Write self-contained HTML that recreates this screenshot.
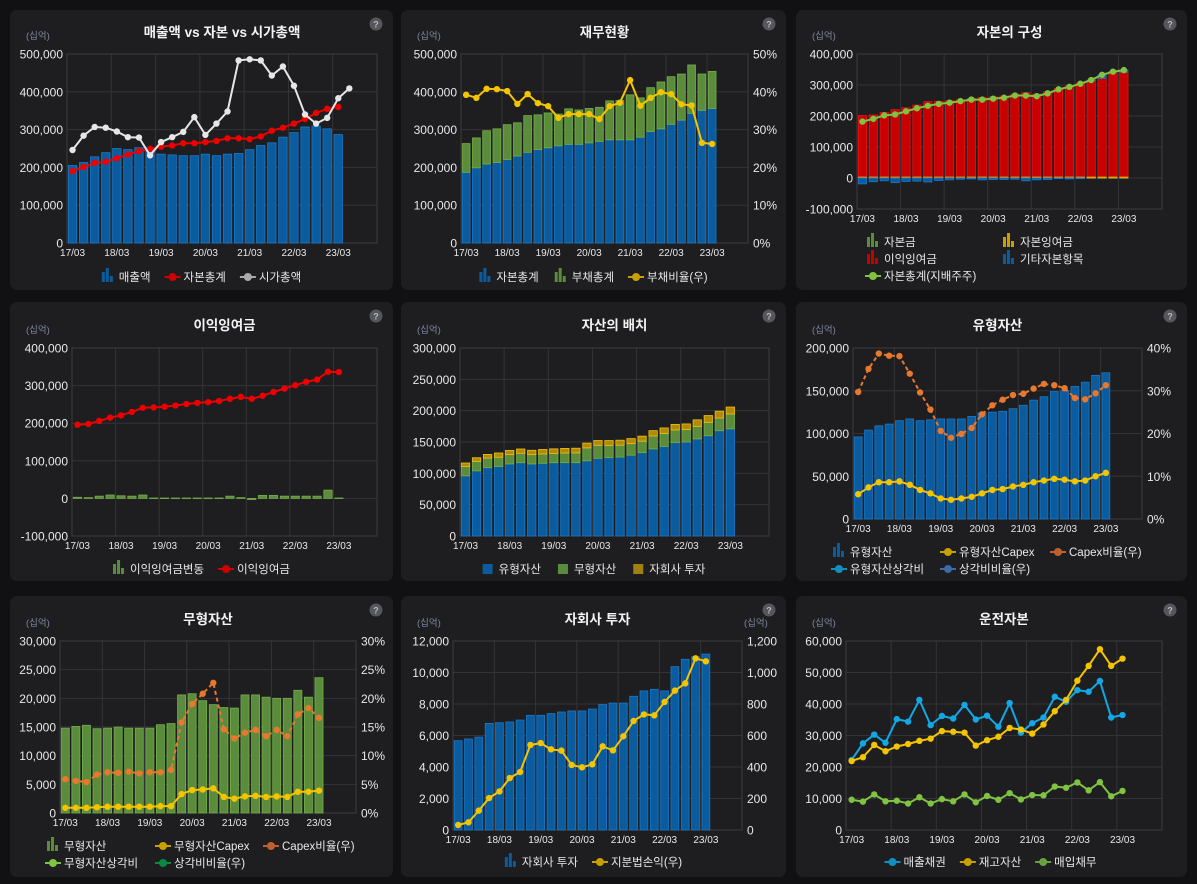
<!DOCTYPE html>
<html><head><meta charset="utf-8">
<style>
html,body{margin:0;padding:0;background:#111113;}
svg{display:block;font-family:"Liberation Sans","Noto Sans CJK KR",sans-serif;}
</style></head>
<body>
<svg id="dash" width="1197" height="884" viewBox="0 0 1197 884" xmlns="http://www.w3.org/2000/svg">
<rect width="1197" height="884" fill="#111113"/>
</svg>
<script>
// ---- data (values in thousands of 십억 unless %) ----
const quarters = ["17/03","18/03","19/03","20/03","21/03","22/03","23/03"];
const c1Sales = [205,213,228,239,250,247,252,252,235,233,231,231,235,231,235,237,247,258,265,280,292,307,309,302,287];
const c1Equity = [190,201,212,215,224,234,243,249,255,258,264,264,267,270,277,277,275,282,297,305,316,328,344,355,360];
const c1MarketCap = [246,284,307,305,295,280,279,232,267,280,294,333,286,316,348,483,486,483,443,467,416,340,316,331,383,409];
const c2Equity = [187,199,209,213,221,230,240,247,252,257,261,261,265,269,273,273,273,280,295,302,314,325,343,351,356];
const c2Total = [263,278,297,302,313,318,337,339,344,341,355,352,356,359,376,377,392,384,411,426,440,447,471,447,454];
const c2DebtRatio = [39.2,38.4,40.8,40.7,40.2,36.8,39.4,37.0,36.2,33.1,34.1,34.1,34.1,32.8,36.2,37.1,43.1,36.3,38.4,39.9,39.4,36.7,36.4,26.5,26.2];
const c3Capital = [0.9,0.9,0.9,0.9,0.9,0.9,0.9,0.9,0.9,0.9,0.9,0.9,0.9,0.9,0.9,0.9,0.9,0.9,0.9,0.9,0.9,0.9,0.9,0.9,0.9];
const c3Surplus = [4.4,4.4,4.4,4.4,4.4,4.4,4.4,4.4,4.4,4.4,4.4,4.4,4.4,4.4,4.4,4.4,4.4,4.4,4.4,4.4,4.4,4.4,4.4,4.4,4.4];
const c3Other = [-19,-12,-9,-15,-11,-10,-13,-8,-6,-4,-3,-6,-5,-5,-4,-9,-6,-5,-2,-3,-2,1,12,1,7];
const c3TotalEq = [182,191,202,205,215,225,233,239,243,248,253,253,256,259,266,266,264,273,286,294,304,316,333,343,348];
const c4Retained = [196,198,206,215,221,230,241,242,244,247,251,254,256,259,265,270,265,273,283,292,301,310,316,337,336];
const c4Change = [3,2,6,9,7,6,9,1,1,1,1,1,1,1,6,2,-3,8,8,6,6,6,6,22,1];
const c6Tangible = [96,104,109,111,115,117,115,116,117,117,117,120,124,125,126,129,133,139,143,149,150,155,160,168,171];
const c6Capex = [29,37,43,43,44,40,34,30,24,22.5,24,26,30,34,35,38,40,43,45,47,46,44,45,50,54];
const c6CapexRatio = [29.7,35.1,38.7,38.2,38.1,34.0,29.6,25.6,20.6,19.0,19.9,21.3,24.5,26.6,27.9,29.0,29.3,30.5,31.6,31.3,30.6,28.3,28.0,29.4,31.3];
const c7Intangible = [14.8,15.1,15.3,14.7,14.8,15.0,14.8,14.8,14.8,15.4,15.6,20.6,20.8,19.6,18.9,18.4,18.3,20.6,20.6,20.2,20.0,20.0,21.4,20.2,23.6];
const c7Capex = [0.9,0.9,0.9,1.0,1.1,1.1,1.1,1.1,1.1,1.2,1.2,3.3,4.0,4.1,4.3,2.8,2.5,2.9,3.0,2.8,2.9,2.8,3.7,3.7,3.9];
const c7CapexRatio = [5.9,5.6,5.4,6.7,7.1,7.0,7.2,6.9,7.1,7.1,7.5,15.8,19.0,20.8,22.7,14.6,13.0,14.0,14.5,13.4,14.5,13.4,17.2,18.3,16.6];
const c8Invest = [5.67,5.78,5.9,6.77,6.81,6.86,6.98,7.28,7.28,7.39,7.49,7.56,7.56,7.68,7.96,8.06,8.06,8.49,8.83,8.93,8.83,10.37,10.84,11.0,11.17];
const c8EquityPL = [32,49,123,203,245,330,368,540,552,512,504,413,398,417,531,506,595,692,734,728,813,885,931,1090,1071];
const c9Receivable = [22.2,27.5,30.3,27.7,35.2,34.4,41.3,33.3,36.2,35.4,39.7,35.1,36.3,32.8,40.3,30.9,33.9,35.7,42.3,40.7,44.4,43.9,47.3,35.7,36.5];
const c9Inventory = [21.9,23.1,27.0,25.0,26.5,27.3,28.3,29.0,31.4,31.2,30.9,26.8,28.5,29.6,32.4,31.9,30.6,33.5,37.7,41.3,47.4,52.1,57.4,52.1,54.4];
const c9Payable = [9.6,9.0,11.3,9.1,9.3,8.4,10.4,8.4,9.8,9.1,11.3,8.8,10.8,9.6,11.7,9.7,11.1,11.0,13.8,13.4,15.1,12.6,15.2,10.7,12.4];
const c5Tangible = c6Tangible;
const c5Intangible = c7Intangible;
const c5Invest = c8Invest;

// ---- engine ----
const NS = "http://www.w3.org/2000/svg";
const root = document.getElementById('dash');
const SLOTS = 28;
const C = {blue:"#0b5c9e", blueE:"#1a78c8", green:"#5b8c3c", greenE:"#74ad4a", red:"#c80000", redE:"#ee1010",
  yellow:"#f5c400", orange:"#e8782e", white:"#e6e6e6", lblue:"#12a8e6", lgreen:"#80c241", gold:"#a38410", goldE:"#e0b010", grid:"#343438"};
function el(tag, attrs, parent){
  const e = document.createElementNS(NS, tag);
  for (const k in attrs) e.setAttribute(k, attrs[k]);
  (parent||root).appendChild(e);
  return e;
}
function fmt(v){ return v.toLocaleString('en-US'); }

function panel(p){
  const g = el('g', {});
  
  
  el('rect', {x:p.px, y:p.py, width:p.pw, height:p.ph, rx:7, fill:"#1e1e21"}, g);
  const t = el('text', {x:(p.x0+p.x1)/2, y:p.ty, 'text-anchor':'middle', fill:'#f2f2f2', 'font-size':13.5, 'font-weight':'bold'}, g);
  t.textContent = p.title;
  
  
  const u = el('text', {x:p.px+16, y:p.y0-15, fill:'#7f86a0', 'font-size':9.5}, g);
  u.textContent = '(십억)';
  
  
  if (p.rightUnit){
    const u2 = el('text', {x:p.x1+2, y:p.y0-15, fill:'#7f86a0', 'font-size':9.5}, g);
    u2.textContent = '(십억)';
    
    
  }
  const h = el('g', {}, g);
  
  
  el('circle', {cx:p.px+p.pw-17, cy:p.py+14, r:6.5, fill:'#56565e'}, h);
  const q = el('text', {x:p.px+p.pw-17, y:p.py+17.5, 'text-anchor':'middle', fill:'#bbb', 'font-size':9, 'font-weight':'bold'}, h);
  q.textContent = '?';
  // scales
  const xs = i => p.x0 + (i+0.5)*(p.x1-p.x0)/SLOTS;
  const ys = v => p.y1 - (v - p.min)/(p.max - p.min)*(p.y1 - p.y0);
  const yr = v => p.y1 - (v - p.rmin)/(p.rmax - p.rmin)*(p.y1 - p.y0);
  // grid
  const gg = el('g', {}, g);
  
  
  for (let v = p.min; v <= p.max + 1e-9; v += p.step){
    el('line', {x1:p.x0, x2:p.x1, y1:ys(v), y2:ys(v), stroke:C.grid, 'stroke-width':1}, gg);
    const tl = el('text', {x:p.x0-4, y:ys(v)+4.5, 'text-anchor':'end', fill:'#e8e8e8', 'font-size':12}, gg);
    tl.textContent = fmt(Math.round(v*p.unit));
    
    
  }
  if (p.rmax !== undefined){
    const rsteps = Math.round((p.max-p.min)/p.step);
    for (let k = 0; k <= rsteps; k++){
      const v = p.rmin + k*(p.rmax-p.rmin)/rsteps;
      const tl = el('text', {x:p.x1+5, y:yr(v)+4.5, fill:'#e8e8e8', 'font-size':12}, gg);
      tl.textContent = p.rpct ? Math.round(v)+'%' : fmt(Math.round(v));
      
      
    }
  }
  quarters.forEach((q, k) => {
    const i = k*4;
    const xb = p.x0 + i*(p.x1-p.x0)/SLOTS;
    if (k>0) el('line', {x1:xb, x2:xb, y1:p.y0, y2:p.y1, stroke:C.grid}, gg);
    const xl = el('text', {x:xs(i), y:p.y1+13, 'text-anchor':'middle', fill:'#e8e8e8', 'font-size':10}, gg);
    xl.textContent = q;
    
    
  });
  el('rect', {x:p.x0, y:p.y0, width:p.x1-p.x0, height:p.y1-p.y0, fill:'none', stroke:'#3c3c40'}, gg);
  const bw = (p.x1-p.x0)/SLOTS*0.76;
  // stacked bars
  if (p.stack){
    const pos = [], neg = [];
    p.stack.forEach(s => {
      const sg = el('g', {}, g);
      
      
      s.data.forEach((v, i) => {
        pos[i] = pos[i]||0; neg[i] = neg[i]||0;
        let a, b;
        if (v >= 0){ a = pos[i]; b = pos[i]+v; pos[i] = b; } else { a = neg[i]+v; b = neg[i]; neg[i] = a; }
        const top = ys(b), bot = ys(a);
        const r = el('rect', {x:xs(i)-bw/2, y:top, width:bw, height:Math.max(bot-top, 0.5), fill:s.fill, stroke:s.edge, 'stroke-width':0.8}, sg);
        
        
      });
    });
  }
  // lines
  (p.lines||[]).forEach(L => {
    const sc = L.right ? yr : ys;
    const lg = el('g', {}, g);
    
    
    const pts = L.data.map((v,i) => xs(i).toFixed(1)+','+sc(v).toFixed(1)).join(' ');
    el('polyline', {points:pts, fill:'none', stroke:L.color, 'stroke-width':L.w||2, 'stroke-dasharray':L.dash?'4,3':'none', 'stroke-linejoin':'round'}, lg);
    L.data.forEach((v,i) => {
      const c = el('circle', {cx:xs(i), cy:sc(v), r:3.2, fill:L.color}, lg);
      
      
    });
  });
  // legend
  const leg = el('g', {}, g);
  
  
  p.legend.rows.forEach((row, ri) => {
    const y = p.legend.y + ri*17;
    let items = [];
    row.forEach((it, ci) => {
      const ig = el('g', {}, leg);
      
      
      if (it.t === 'bar'){
        el('rect', {x:0, y:-8, width:3, height:10, fill:it.c}, ig);
        el('rect', {x:4, y:-12, width:3, height:14, fill:it.c}, ig);
        el('rect', {x:8, y:-4, width:3, height:6, fill:it.c}, ig);
      } else if (it.t === 'sq'){
        el('rect', {x:1, y:-8, width:10, height:10, fill:it.c}, ig);
      } else {
        el('line', {x1:-2, x2:14, y1:-3, y2:-3, stroke:it.c, 'stroke-width':2}, ig);
        el('circle', {cx:6, cy:-3, r:4, fill:it.c}, ig);
      }
      const tx = el('text', {x:17, y:1, fill:'#e8e8e8', 'font-size':11.5}, ig);
      tx.textContent = it.l;
      items.push({g:ig, w:17 + tx.getComputedTextLength()});
    });
    if (p.legend.cols){
      items.forEach((o, ci) => o.g.setAttribute('transform', `translate(${p.legend.cols[ci]},${y})`));
    } else {
      const gap = 16;
      const tot = items.reduce((s,o)=>s+o.w,0) + gap*(items.length-1);
      let x = (p.px + p.px + p.pw)/2 - tot/2;
      items.forEach(o => { o.g.setAttribute('transform', `translate(${x},${y})`); x += o.w + gap; });
    }
  });
}

const R1 = {py:10, ph:280}, R2 = {py:302, ph:279}, R3 = {py:596, ph:281};
const K1 = {px:10, pw:383}, K2 = {px:401, pw:385}, K3 = {px:796, pw:391};

panel(Object.assign({name:'sales-vs-equity', title:'매출액 vs 자본 vs 시가총액', x0:67, x1:377, y0:54, y1:243, ty:37, min:0, max:500, step:100, unit:1000,
  stack:[{name:'sales', data:c1Sales, fill:C.blue, edge:C.blueE}],
  lines:[{name:'equity', data:c1Equity, color:'#ee0000'},{name:'market-cap', data:c1MarketCap, color:C.white}],
  legend:{y:280, rows:[[{t:'bar',c:C.blue,l:'매출액'},{t:'line',c:'#d00000',l:'자본총계'},{t:'line',c:'#aaa',l:'시가총액'}]]}}, R1, K1));

panel(Object.assign({name:'financial-status', title:'재무현황', x0:461, x1:748, y0:54, y1:243, ty:37, min:0, max:500, step:100, unit:1000, rmin:0, rmax:50, rpct:true,
  stack:[{name:'equity', data:c2Equity, fill:C.blue, edge:C.blueE},{name:'liabilities', data:c2Total.map((v,i)=>v-c2Equity[i]), fill:C.green, edge:C.greenE}],
  lines:[{name:'debt-ratio', data:c2DebtRatio, color:C.yellow, right:true}],
  legend:{y:280, rows:[[{t:'bar',c:C.blue,l:'자본총계'},{t:'bar',c:C.green,l:'부채총계'},{t:'line',c:'#c8a000',l:'부채비율(우)'}]]}}, R1, K2));

panel(Object.assign({name:'equity-composition', title:'자본의 구성', x0:857, x1:1162, y0:54, y1:209, ty:37, min:-100, max:400, step:100, unit:1000,
  stack:[{name:'capital', data:c3Capital, fill:C.green, edge:C.greenE},{name:'capital-surplus', data:c3Surplus, fill:'#c8a000', edge:'#e0b010'},{name:'retained-earnings', data:c4Retained, fill:C.red, edge:C.redE},{name:'other-equity', data:c3Other, fill:C.blue, edge:C.blueE}],
  lines:[{name:'total-equity', data:c3TotalEq, color:C.lgreen}],
  legend:{y:245, cols:[867,1003], rows:[[{t:'bar',c:C.green,l:'자본금'},{t:'bar',c:'#c8a000',l:'자본잉여금'}],[{t:'bar',c:C.red,l:'이익잉여금'},{t:'bar',c:C.blue,l:'기타자본항목'}],[{t:'line',c:C.lgreen,l:'자본총계(지배주주)'}]]}}, R1, K3));

panel(Object.assign({name:'retained-earnings', title:'이익잉여금', x0:72, x1:377, y0:348, y1:536, ty:330, min:-100, max:400, step:100, unit:1000,
  stack:[{name:'retained-change', data:c4Change, fill:C.green, edge:C.greenE}],
  lines:[{name:'retained', data:c4Retained, color:'#ee0000'}],
  legend:{y:572, rows:[[{t:'bar',c:C.green,l:'이익잉여금변동'},{t:'line',c:'#d00000',l:'이익잉여금'}]]}}, R2, K1));

panel(Object.assign({name:'asset-allocation', title:'자산의 배치', x0:460, x1:769, y0:348, y1:536, ty:330, min:0, max:300, step:50, unit:1000,
  stack:[{name:'tangible', data:c5Tangible, fill:C.blue, edge:C.blueE},{name:'intangible', data:c5Intangible, fill:C.green, edge:C.greenE},{name:'subsidiary', data:c5Invest, fill:'#b08a08', edge:'#f0c010'}],
  legend:{y:572, rows:[[{t:'sq',c:C.blue,l:'유형자산'},{t:'sq',c:C.green,l:'무형자산'},{t:'sq',c:'#a08010',l:'자회사 투자'}]]}}, R2, K2));

panel(Object.assign({name:'tangible-assets', title:'유형자산', x0:853, x1:1142, y0:348, y1:519, ty:330, min:0, max:200, step:50, unit:1000, rmin:0, rmax:40, rpct:true,
  stack:[{name:'tangible', data:c6Tangible, fill:C.blue, edge:C.blueE}],
  lines:[{name:'capex-ratio', data:c6CapexRatio, color:C.orange, right:true, dash:true},{name:'capex', data:c6Capex, color:C.yellow}],
  legend:{y:555, cols:[833,942,1052], rows:[[{t:'bar',c:C.blue,l:'유형자산'},{t:'line',c:'#c8a000',l:'유형자산Capex'},{t:'line',c:'#c06030',l:'Capex비율(우)'}],[{t:'line',c:'#1090c0',l:'유형자산상각비'},{t:'line',c:'#3a6aa8',l:'상각비비율(우)'}]]}}, R2, K3));

panel(Object.assign({name:'intangible-assets', title:'무형자산', x0:60, x1:356, y0:641, y1:813, ty:624, min:0, max:30, step:5, unit:1000, rmin:0, rmax:30, rpct:true,
  stack:[{name:'intangible', data:c7Intangible, fill:C.green, edge:C.greenE}],
  lines:[{name:'capex-ratio', data:c7CapexRatio, color:C.orange, right:true, dash:true},{name:'capex', data:c7Capex, color:C.yellow}],
  legend:{y:849, cols:[47,157,265], rows:[[{t:'bar',c:C.green,l:'무형자산'},{t:'line',c:'#c8a000',l:'무형자산Capex'},{t:'line',c:'#c06030',l:'Capex비율(우)'}],[{t:'line',c:C.lgreen,l:'무형자산상각비'},{t:'line',c:'#0a8a40',l:'상각비비율(우)'}]]}}, R3, K1));

panel(Object.assign({name:'subsidiary-investment', title:'자회사 투자', x0:453, x1:742, y0:641, y1:830, ty:624, min:0, max:12, step:2, unit:1000, rmin:0, rmax:1200, rightUnit:true,
  stack:[{name:'subsidiary', data:c8Invest, fill:C.blue, edge:C.blueE}],
  lines:[{name:'equity-method-pl', data:c8EquityPL, color:C.yellow, right:true}],
  legend:{y:865, rows:[[{t:'bar',c:C.blue,l:'자회사 투자'},{t:'line',c:'#c8a000',l:'지분법손익(우)'}]]}}, R3, K2));

panel(Object.assign({name:'working-capital', title:'운전자본', x0:846, x1:1162, y0:641, y1:830, ty:624, min:0, max:60, step:10, unit:1000,
  lines:[{name:'receivables', data:c9Receivable, color:C.lblue},{name:'inventory', data:c9Inventory, color:C.yellow},{name:'payables', data:c9Payable, color:C.lgreen}],
  legend:{y:865, rows:[[{t:'line',c:'#1090c0',l:'매출채권'},{t:'line',c:'#c8a000',l:'재고자산'},{t:'line',c:'#6aa040',l:'매입채무'}]]}}, R3, K3));
</script>
</body></html>
